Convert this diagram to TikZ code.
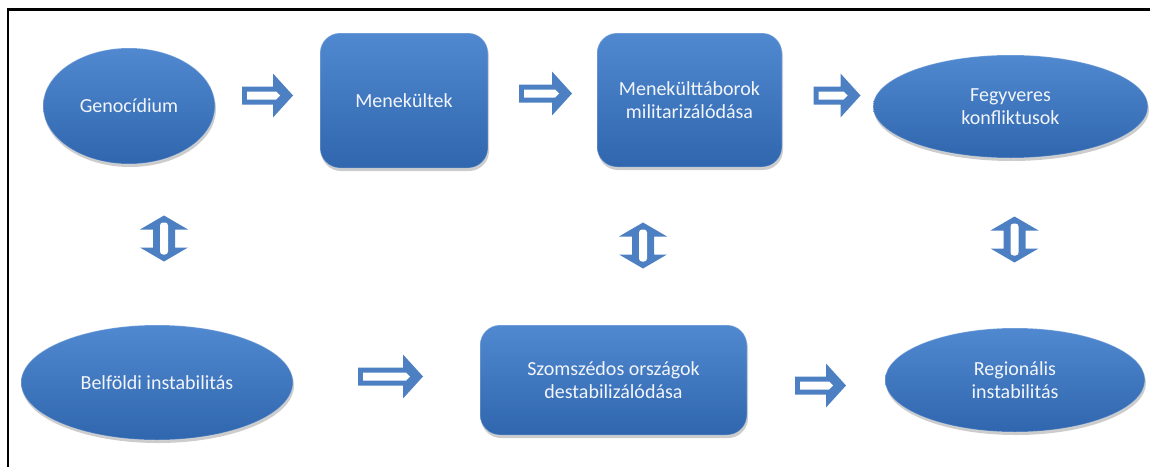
\documentclass[tikz,border=0pt]{standalone}
\usepackage{fontspec}
\setmainfont{Carlito}
\usetikzlibrary{shapes.geometric,shadows}
\definecolor{bluetop}{HTML}{5189D0}
\definecolor{bluemid}{HTML}{3A75BF}
\definecolor{bluebot}{HTML}{2F66AE}
\definecolor{arrowblue}{HTML}{4D80C2}
\definecolor{textwhite}{HTML}{F2F5FA}
\tikzset{
  box/.style={draw=none, top color=bluetop, middle color=bluemid, bottom color=bluebot,
    text=textwhite, font=\fontsize{20}{23}\selectfont, align=center, inner sep=0pt, outer sep=0pt,
    drop shadow={shadow xshift=1pt, shadow yshift=-3pt, opacity=.2, fill=black},
    postaction={draw=white, draw opacity=.25, line width=1pt}},
  ell/.style={box, ellipse},
  rbox/.style={box, rectangle, rounded corners=20pt},
  pics/rarr/.style={code={
    \fill[arrowblue] (-#1,-9) -- (#1-20,-9) -- (#1-20,-22) -- (#1,0) -- (#1-20,22) -- (#1-20,9) -- (-#1,9) -- cycle;
    \fill[white] (-#1+5,-4) -- (#1-17,-4) -- (#1-13,0) -- (#1-17,4) -- (-#1+5,4) -- cycle;
  }},
  pics/udarr/.style={code={
    \fill[arrowblue] (0,-23) -- (24,-9) -- (11,-9) -- (11,9) -- (24,9) -- (0,23) -- (-24,9) -- (-11,9) -- (-11,-9) -- (-24,-9) -- cycle;
    \fill[white, rounded corners=3pt] (-4,-16) rectangle (4,16);
  }}
}
\begin{document}
\begin{tikzpicture}[x=1pt,y=-1pt]
\useasboundingbox (0,0) rectangle (1150,466);
\fill[white] (0,0) rectangle (1150,466);
\draw[line width=2.5pt] (8,470) -- (8,9.5) -- (1155,9.5);

\node[ell, minimum width=172pt, minimum height=116pt] (gen) at (129,106) {Genocídium};
\node[rbox, minimum width=168pt, minimum height=135pt] (men) at (404,100.5) {Menekültek};
\node[rbox, minimum width=185pt, minimum height=134pt] (mil) at (689.5,100) {Menekülttáborok\\militarizálódása};
\node[ell, minimum width=275pt, minimum height=103pt] (fegy) at (1010.5,106.5) {Fegyveres\\konfliktusok};
\node[ell, minimum width=272pt, minimum height=115pt] (bel) at (157,382.5) {Belföldi instabilitás};
\node[rbox, minimum width=267pt, minimum height=110pt] (szom) at (613.5,380) {Szomszédos országok\\destabilizálódása};
\node[ell, minimum width=260pt, minimum height=104pt] (reg) at (1015,380) {Regionális\\instabilitás};

\pic (a1) at (267.5,95.5) {rarr=25.5};
\pic (a2) at (545.5,93.5) {rarr=26.5};
\pic (a3) at (837,95.5) {rarr=23.5};
\pic (b1) at (390.5,376.5) {rarr=32.5};
\pic (b2) at (820.5,385.5) {rarr=25.5};

\pic (v1) at (164,238.5) {udarr};
\pic (v2) at (643,245.5) {udarr};
\pic (v3) at (1014.5,239.5) {udarr};
\end{tikzpicture}
\end{document}
